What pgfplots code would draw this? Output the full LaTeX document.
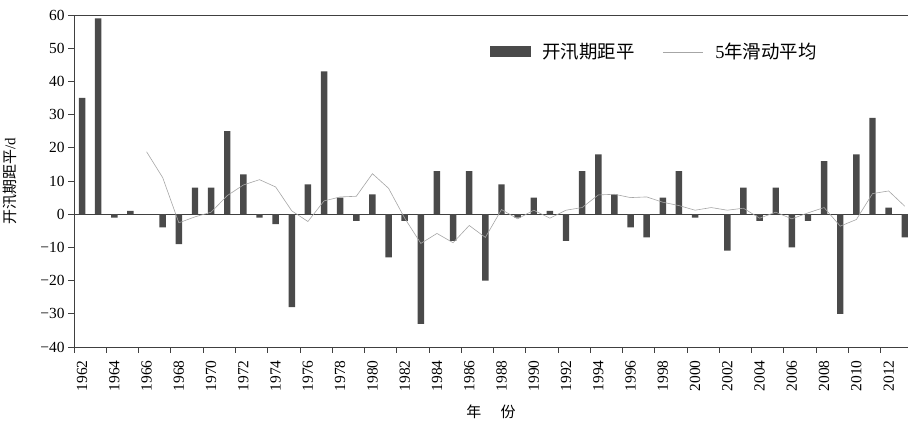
\documentclass[border=0pt]{standalone}
\usepackage{pgfplots}
\pgfplotsset{compat=1.18}
\usepackage{fontspec}
\setmainfont{Liberation Serif}
\newfontfamily\cjk{Noto Sans CJK SC}
\definecolor{barc}{HTML}{4A4A4A}
\definecolor{axc}{HTML}{404040}
\begin{document}
\begin{tikzpicture}
\begin{axis}[name=ax, scale only axis, width=834bp, height=332bp,
  xmin=1961.5, xmax=2013.2, ymin=-40, ymax=60,
  axis x line*=bottom, axis y line*=left,
  axis line style={-, axc, line width=0.7bp},
  ytick={-40,-30,...,60},
  yticklabels={−40,−30,−20,−10,0,10,20,30,40,50,60},
  xtick={1961.5,1963.5,...,2011.5},
  xticklabels={1962,1964,1966,1968,1970,1972,1974,1976,1978,1980,1982,1984,1986,1988,1990,1992,1994,1996,1998,2000,2002,2004,2006,2008,2010,2012},
  xticklabel style={xshift=8.07bp, yshift=-4bp, rotate=90, anchor=east},
  tick align=outside, major tick length=6bp,
  tick style={axc, line width=0.7bp},
  tick label style={font=\fontsize{15.5}{15.5}\selectfont},
  ylabel={{\cjk 开汛期距平}/d},
  ylabel style={font=\fontsize{15}{15}\selectfont, at={(axis description cs:-0.0767,0.5)}, anchor=center},
  xlabel={{\cjk 年\hspace{1.3em}份}},
  xlabel style={font=\fontsize{15}{15}\selectfont, at={(axis description cs:0.5,0)}, anchor=north, yshift=-54bp},
  legend style={draw=none, fill=none, at={(0.498,0.889)}, anchor=west,
    font=\fontsize{18.5}{18.5}\selectfont, inner sep=0pt,
    /tikz/every odd column/.append style={column sep=10bp},
    /tikz/every even column/.append style={column sep=26bp}},
  legend columns=2,
  clip=true,
]
\addplot[axc, line width=0.7bp, forget plot] coordinates {(1961.5,0) (2013.2,0)};
\addplot[ybar, bar width=0.4, fill=barc, draw=none,
  legend image code/.code={\fill[barc] (0bp,-5.5bp) rectangle (41bp,5.5bp);}]
coordinates {
(1962,35) (1963,59) (1964,-1) (1965,1) (1966,0) (1967,-4) (1968,-9) (1969,8)
(1970,8) (1971,25) (1972,12) (1973,-1) (1974,-3) (1975,-28) (1976,9) (1977,43)
(1978,5) (1979,-2) (1980,6) (1981,-13) (1982,-2) (1983,-33) (1984,13) (1985,-8)
(1986,13) (1987,-20) (1988,9) (1989,-1) (1990,5) (1991,1) (1992,-8) (1993,13)
(1994,18) (1995,6) (1996,-4) (1997,-7) (1998,5) (1999,13) (2000,-1) (2001,0)
(2002,-11) (2003,8) (2004,-2) (2005,8) (2006,-10) (2007,-2) (2008,16) (2009,-30)
(2010,18) (2011,29) (2012,2) (2013,-7)
};
\addlegendentry{\cjk 开汛期距平}
\addplot[sharp plot, gray!70, line width=0.6bp, no markers,
  legend image code/.code={\draw[gray!70, line width=0.6bp] (0bp,0bp) -- (40bp,0bp);}]
coordinates {
(1966,18.8) (1967,11.0) (1968,-2.6) (1969,-0.8) (1970,0.6) (1971,5.6) (1972,8.8)
(1973,10.4) (1974,8.2) (1975,1.0) (1976,-2.2) (1977,4.0) (1978,5.2) (1979,5.4)
(1980,12.2) (1981,7.8) (1982,-1.2) (1983,-8.8) (1984,-5.8) (1985,-8.6) (1986,-3.4)
(1987,-7.0) (1988,1.4) (1989,-1.4) (1990,1.2) (1991,-1.2) (1992,1.2) (1993,2.0)
(1994,5.8) (1995,6.0) (1996,5.0) (1997,5.2) (1998,3.6) (1999,2.6) (2000,1.2)
(2001,2.0) (2002,1.2) (2003,1.8) (2004,-1.2) (2005,0.6) (2006,-1.4) (2007,0.4)
(2008,2.0) (2009,-3.6) (2010,-1.6) (2011,6.2) (2012,7.0) (2013,2.4)
};
\addlegendentry{5{\cjk 年滑动平均}}
\end{axis}
\draw[axc, line width=0.7bp] (ax.north west) -- (ax.north east);
\pgfresetboundingbox
\path ([xshift=-74bp,yshift=-76bp]ax.south west) rectangle ([yshift=15bp]ax.north east);
\end{tikzpicture}
\end{document}
